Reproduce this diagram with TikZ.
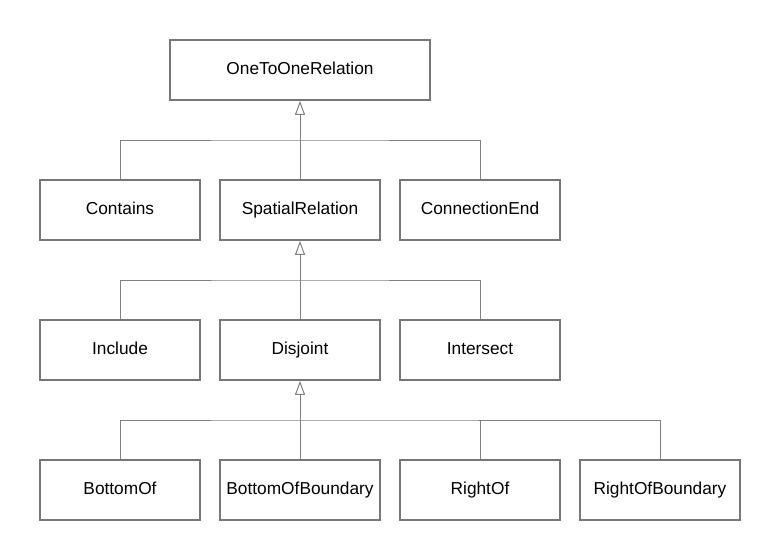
\documentclass[tikz,border=0pt]{standalone}
\usepackage{fontspec}
\setmainfont{Liberation Sans}
\usetikzlibrary{arrows.meta}
\begin{document}
\begin{tikzpicture}[x=1pt,y=-1pt,
  cls/.style={draw=boxgray,line width=1.6pt,minimum width=160pt,minimum height=60pt,inner sep=0pt,text height=12.4pt,text depth=3.5pt,font=\fontsize{17.3}{20}\selectfont,fill=white},
  conn/.style={draw=linegray,line width=1pt},
  inh/.style={conn,-{Triangle[open,length=14pt,width=10pt]}}]
\definecolor{boxgray}{HTML}{777777}
\definecolor{linegray}{HTML}{808080}
\useasboundingbox (0,0) rectangle (780,560);
\node[cls,minimum width=260pt] (o2o) at (300,70) {OneToOneRelation};
\node[cls] (contains) at (120,210) {Contains};
\node[cls] (spatial) at (300,210) {SpatialRelation};
\node[cls] (connend) at (480,210) {ConnectionEnd};
\node[cls] (include) at (120,350) {Include};
\node[cls] (disjoint) at (300,350) {Disjoint};
\node[cls] (intersect) at (480,350) {Intersect};
\node[cls] (bottomof) at (120,490) {BottomOf};
\node[cls] (bottomofb) at (300,490) {BottomOfBoundary};
\node[cls] (rightof) at (480,490) {RightOf};
\node[cls] (rightofb) at (660,490) {RightOfBoundary};
\coordinate (j1) at (300,140);
\coordinate (j2) at (300,280);
\coordinate (j3) at (300,420);
% level 1
\draw[inh] (spatial.north) -- (o2o.south);
\draw[conn] (contains.north) |- (j1) -| (connend.north);
% level 2
\draw[inh] (disjoint.north) -- (spatial.south);
\draw[conn] (include.north) |- (j2) -| (intersect.north);
% level 3
\draw[inh] (bottomofb.north) -- (disjoint.south);
\draw[conn] (bottomof.north) |- (j3) -| (rightofb.north);
\draw[conn] (rightof.north) -- (rightof.north |- j3);
\end{tikzpicture}
\end{document}
